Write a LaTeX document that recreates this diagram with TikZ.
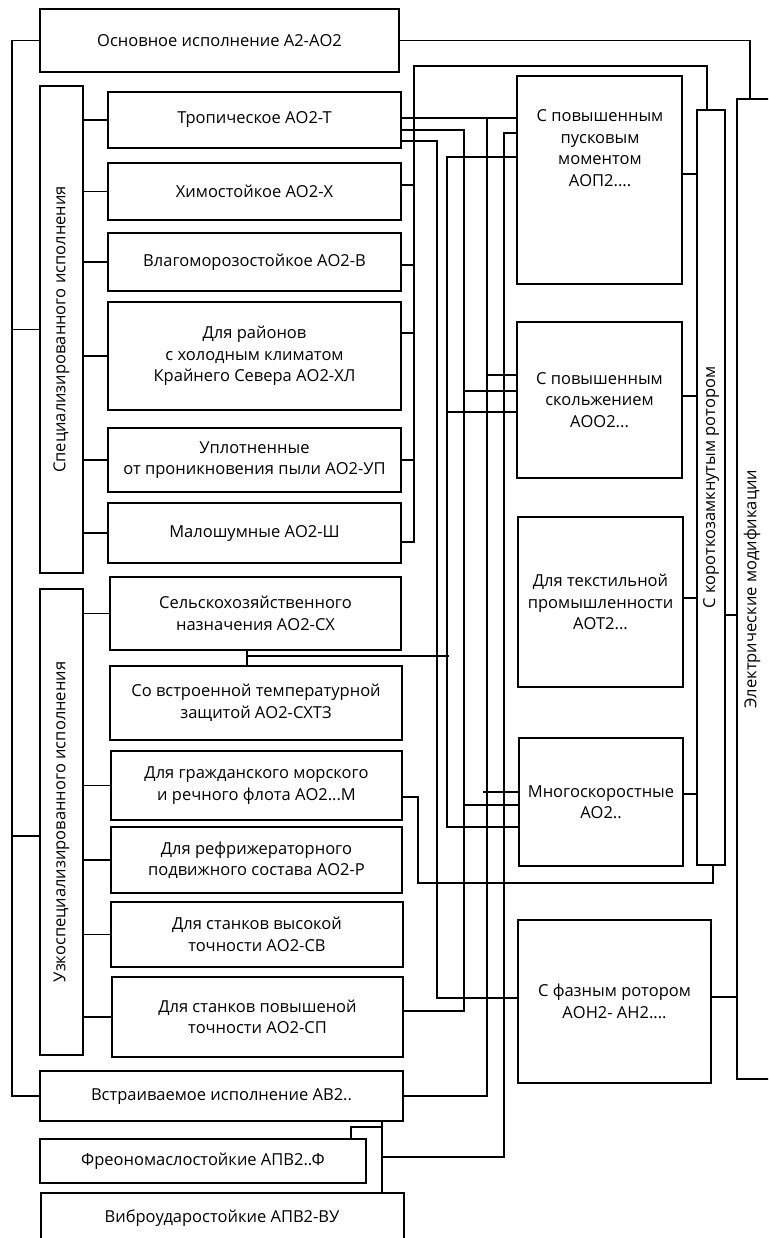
\documentclass[tikz,border=0pt]{standalone}
\usepackage{fontspec}
\setmainfont{Open Sans}
\newcommand\fs{\fontsize{16.5}{21.5}\selectfont}
\newcommand\mybox[6][]{\node[box,#1,minimum width={(#5-#3)*1pt},minimum height={(#6-#4)*1pt}] (#2) at ({(#3+#5)/2},{(#4+#6)/2})}
\begin{document}
\begin{tikzpicture}[x=1pt,y=-1pt,line width=1.1pt,
  box/.style={draw, inner sep=0pt, outer sep=0pt, align=center, font=\fs},
  txt/.style={inner sep=0pt, align=center, font=\fs}]
\clip (0,0) rectangle (768,1238);
\fill[white] (0,0) rectangle (768,1238);
% left column
\mybox{osn}{40}{9}{399}{72} {Основное исполнение А2-АО2};
\mybox{spec}{40}{86}{83}{573} {\rotatebox{90}{Специализированного исполнения}};
\mybox{trop}{108}{92}{401}{148} {Тропическое АО2-Т};
\mybox{him}{108}{163}{401}{220} {Химостойкое АО2-Х};
\mybox{vlago}{108}{233}{401}{291} {Влагоморозостойкое АО2-В};
\mybox{rayon}{108}{302}{401}{410} {Для районов\\с холодным климатом\\Крайнего Севера АО2-ХЛ};
\mybox{uplot}{108}{428}{401}{492} {Уплотненные\\от проникновения пыли АО2-УП};
\mybox{malosh}{108}{503}{401}{563} {Малошумные АО2-Ш};
\mybox{uzk}{40}{589}{83}{1055} {\rotatebox{90}{Узкоспециализированного исполнения}};
\mybox{sel}{110}{577}{401}{650} {Сельскохозяйственного\\назначения АО2-СХ};
\mybox{sot}{110}{666}{402}{740} {Со встроенной температурной\\защитой АО2-СХТЗ};
\mybox{grazh}{111}{751}{402}{820} {Для гражданского морского\\и речного флота АО2...М};
\mybox{refr}{111}{827}{402}{893} {Для рефрижераторного\\подвижного состава АО2-Р};
\mybox{stv}{111}{902}{403}{967} {Для станков высокой\\точности АО2-СВ};
\mybox{sp}{112}{977}{403}{1057} {Для станков повышеной\\точности АО2-СП};
\mybox{vstr}{40}{1071}{403}{1121} {Встраиваемое исполнение АВ2..};
\mybox{freo}{40}{1139}{366}{1183} {Фреономаслостойкие АПВ2..Ф};
\mybox{vibro}{41}{1193}{404}{1258} {};
\node[txt] (vibrot) at (222,1218) {Виброударостойкие АПВ2-ВУ};
% right column
\mybox{pusk}{517}{76}{682}{284} {};
\node[txt] (puskt) at (600,148) {С повышенным\\пусковым\\моментом\\АОП2....};
\mybox{skz}{517}{322}{682}{478} {С повышенным\\скольжением\\АОО2...};
\mybox{tekst}{518}{517}{683}{687} {Для текстильной\\промышленности\\АОТ2...};
\mybox{mnogo}{519}{738}{683}{866} {Многоскоростные\\АО2..};
\mybox{faz}{518}{920}{711}{1083} {С фазным ротором\\АОН2- АН2....};
\mybox{kz}{697}{110}{725}{865} {\rotatebox{90}{С короткозамкнутым ротором}};
\mybox{el}{737}{99}{775}{1079} {};
\node[txt,rotate=90] (elt) at (752,589) {Электрические модификации};
% main bus
\draw (osn.west) -| (12,0 |- vstr.west) -- (vstr.west);
\draw (spec.west) -- (spec.west -| 12,0);
\draw (uzk.west |- 0,836) -- (12,836);
% specialised children
\foreach \n in {trop,him,vlago,rayon,uplot,malosh} \draw (\n.west) -- (\n.west -| spec.east);
\foreach \n in {sel,grazh,refr,stv,sp} \draw (\n.west) -- (\n.west -| uzk.east);
% specialised right bus
\draw (kz.north -| 707,0) |- (414,66) |- (malosh.east |- 0,542);
\foreach \n/\y in {him/185,vlago/265,rayon/333,uplot/460} \draw (\n.east |- 0,\y) -- (414,\y);
% middle wiring
\draw (trop.east |- 0,118) -- (pusk.west |- 0,118);
\draw (trop.east |- 0,130) -| (464,1011) -- (sp.east |- 0,1011);
\draw (trop.east |- 0,141) -| (437,998) -- (faz.west |- 0,998);
\draw (vstr.east) -| (487,118);
\draw (487,375) -- (skz.west |- 0,375);
\draw (483,792) -- (mnogo.west |- 0,792);
\draw (pusk.west |- 0,157) -| (447,827) -- (mnogo.west |- 0,827);
\draw (447,412) -- (skz.west |- 0,412);
\draw (464,391) -- (skz.west |- 0,391);
\draw (464,805) -- (mnogo.west |- 0,805);
\draw (sel.south -| 247,0) -- (sot.north -| 247,0);
\draw (247,656) -- (449,656);
\draw (grazh.east |- 0,797) -| (418,883) -| (kz.south -| 713,0);
\draw (pusk.west |- 0,133) -| (504,1157) -- (382,1157);
\draw (vstr.south -| 382,0) -- (vibro.north -| 382,0);
\draw (freo.north -| 351,0) |- (382,1127);
% to short-circuit rotor
\draw (pusk.east |- 0,174) -- (kz.west |- 0,174);
\draw (skz.east |- 0,396) -- (kz.west |- 0,396);
\draw (tekst.east |- 0,598) -- (kz.west |- 0,598);
\draw (mnogo.east |- 0,794) -- (kz.west |- 0,794);
% to electrical modifications
\draw (kz.east |- 0,615) -- (el.west |- 0,615);
\draw (faz.east |- 0,997) -- (el.west |- 0,997);
\draw (osn.east) -| (el.north -| 750,0);
\end{tikzpicture}
\end{document}
